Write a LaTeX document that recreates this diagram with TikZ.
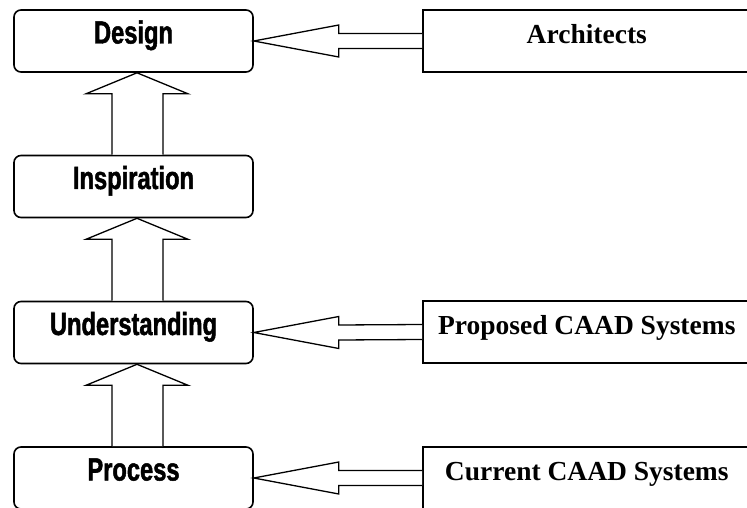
\documentclass[tikz,border=0pt]{standalone}
\usepackage{fontspec}
\setmainfont{Liberation Serif}
\newfontfamily\stagefont[FakeStretch=0.74,FakeBold=1.5]{Liberation Sans}
\usetikzlibrary{calc}

\tikzset{
  stagebox/.style={draw, line width=1.6pt, rounded corners=7pt,
    minimum width=239pt, minimum height=62pt, inner sep=0pt,
    text height=0.72em, text depth=0.22em,
    font=\stagefont\fontsize{32}{33}\selectfont\bfseries},
  sourcebox/.style={draw, line width=1.6pt, anchor=west,
    minimum width=328pt, minimum height=62pt, inner sep=0pt,
    text height=0.7em, text depth=0.25em,
    font=\fontsize{27.5}{30}\selectfont\bfseries},
  blockarrow/.style={draw, line width=1.3pt, line join=miter, fill=white},
}

\begin{document}
\begin{tikzpicture}[x=1pt, y=-1pt]
  \useasboundingbox (0,0) rectangle (747,508);

  % stages of the design process
  \node[stagebox] (design)   at (133.5, 41)    {Design};
  \node[stagebox] (inspire)  at (133.5, 186.5) {Inspiration};
  \node[stagebox] (underst)  at (133.5, 332.5) {Understanding};
  \node[stagebox] (process)  at (133.5, 478)   {Process};

  % contributing sources (boxes run off the right edge)
  \begin{scope}
    \clip (0,0) rectangle (747,508);
    \node[sourcebox] (arch)     at (422, 41)  {Architects};
    \node[sourcebox] (proposed) at (422, 332) {Proposed CAAD Systems};
    \node[sourcebox] (current)  at (422, 478) {Current CAAD Systems};
  \end{scope}

  % upward block arrows between stages
  \foreach \lo/\up in {inspire/design, underst/inspire, process/underst} {
    \draw[blockarrow]
      ([xshift=-21.5pt]\lo.north)
      -- ([xshift=-21.5pt,yshift=-21pt]\up.south)
      -- ([xshift=-47.5pt,yshift=-21pt]\up.south)
      -- ([xshift=3.5pt]\up.south)
      -- ([xshift=54.5pt,yshift=-21pt]\up.south)
      -- ([xshift=29.5pt,yshift=-21pt]\up.south)
      -- ([xshift=29.5pt]\lo.north);
  }

  % leftward block arrows from sources into stages
  \foreach \src/\dst in {arch/design, proposed/underst, current/process} {
    \draw[blockarrow]
      ([yshift=7.5pt]\src.west)
      -- ([xshift=85pt,yshift=7.5pt]\dst.east)
      -- ([xshift=85pt,yshift=16pt]\dst.east)
      -- (\dst.east)
      -- ([xshift=85pt,yshift=-16pt]\dst.east)
      -- ([xshift=85pt,yshift=-7.5pt]\dst.east)
      -- ([yshift=-7.5pt]\src.west);
  }
\end{tikzpicture}
\end{document}
